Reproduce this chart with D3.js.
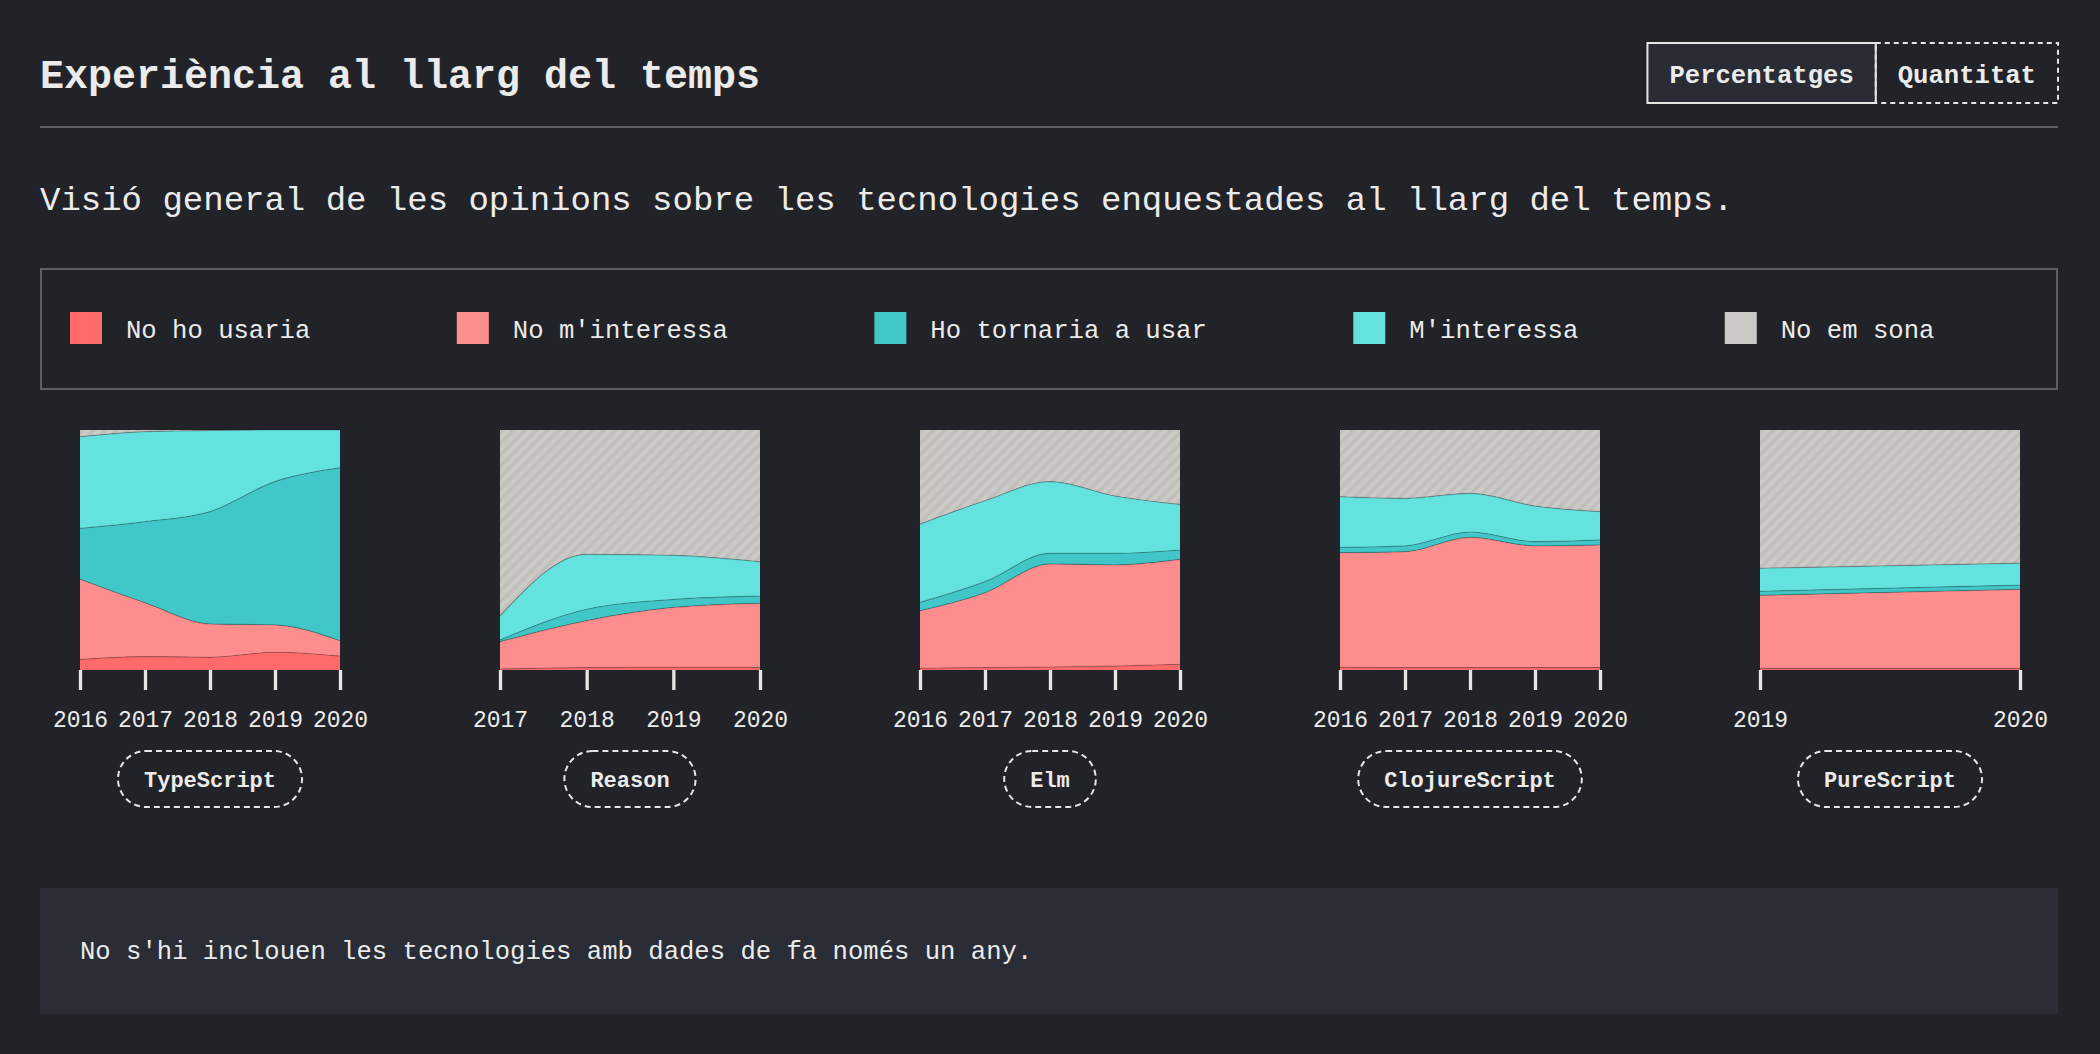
<!DOCTYPE html>
<html>
<head>
<meta charset="utf-8">
<script src="https://cdn.jsdelivr.net/npm/d3@7"></script>
<style>
html, body { margin: 0; padding: 0; background: #222329; }
svg { display: block; }
text { font-family: "Liberation Mono", "DejaVu Sans Mono", monospace; fill: #ebebeb; }
</style>
</head>
<body>
<svg id="chart" width="2100" height="1054"></svg>
<script>
// ---------- DATA ----------
const categoryLabels = ["No ho usaria", "No m'interessa", "Ho tornaria a usar", "M'interessa", "No em sona"];
const categoryKeys = ["would_not_use", "not_interested", "would_use", "interested", "never_heard"];
const categoryColors = ["#ff6b6b", "#fe8e8e", "#41c7c7", "#63e2e0", "#cccac6"];
const technologies = ["TypeScript", "Reason", "Elm", "ClojureScript", "PureScript"];
const toggleLabels = ["Percentatges", "Quantitat"];

// TypeScript
const typescriptYears = [2016, 2017, 2018, 2019, 2020];
const typescriptWouldNotUse = [4.4, 5.6, 5.3, 7.4, 5.8];
const typescriptNotInterested = [33.4, 22.4, 13.9, 11.4, 6.4];
const typescriptWouldUse = [21.2, 33.8, 46.8, 59.7, 72.1];
const typescriptInterested = [38.2, 37.5, 33.8, 21.5, 15.7];
const typescriptNeverHeard = [2.8, 0.7, 0.2, 0.0, 0.0];

// Reason
const reasonYears = [2017, 2018, 2019, 2020];
const reasonWouldNotUse = [0.4, 1.0, 1.1, 1.1];
const reasonNotInterested = [11.4, 19.6, 25.0, 26.7];
const reasonWouldUse = [0.7, 4.7, 3.3, 3.0];
const reasonInterested = [10.0, 22.9, 18.4, 14.3];
const reasonNeverHeard = [77.5, 51.8, 52.2, 54.9];

// Elm
const elmYears = [2016, 2017, 2018, 2019, 2020];
const elmWouldNotUse = [0.7, 1.0, 1.2, 1.6, 2.4];
const elmNotInterested = [24.0, 31.2, 43.0, 42.2, 43.7];
const elmWouldUse = [3.5, 4.6, 4.4, 4.8, 3.9];
const elmInterested = [32.6, 33.7, 29.9, 23.9, 19.0];
const elmNeverHeard = [39.2, 29.5, 21.5, 27.5, 31.0];

// ClojureScript
const clojurescriptYears = [2016, 2017, 2018, 2019, 2020];
const clojurescriptWouldNotUse = [1.1, 1.0, 1.0, 1.0, 1.0];
const clojurescriptNotInterested = [47.8, 48.3, 54.3, 50.7, 51.1];
const clojurescriptWouldUse = [2.2, 2.4, 2.2, 1.8, 2.1];
const clojurescriptInterested = [21.1, 19.8, 16.1, 14.8, 11.8];
const clojurescriptNeverHeard = [27.8, 28.5, 26.4, 31.7, 34.0];

// PureScript
const purescriptYears = [2019, 2020];
const purescriptWouldNotUse = [0.7, 0.7];
const purescriptNotInterested = [30.4, 32.9];
const purescriptWouldUse = [1.7, 1.8];
const purescriptInterested = [9.6, 9.1];
const purescriptNeverHeard = [57.6, 55.5];

const titleText = "Experiència al llarg del temps";
const subtitleText = "Visió general de les opinions sobre les tecnologies enquestades al llarg del temps.";
const noteText = "No s'hi inclouen les tecnologies amb dades de fa només un any.";

// ---------- BUILD TABLES ----------
const techSeries = [
  [typescriptYears, [typescriptWouldNotUse, typescriptNotInterested, typescriptWouldUse, typescriptInterested, typescriptNeverHeard]],
  [reasonYears, [reasonWouldNotUse, reasonNotInterested, reasonWouldUse, reasonInterested, reasonNeverHeard]],
  [elmYears, [elmWouldNotUse, elmNotInterested, elmWouldUse, elmInterested, elmNeverHeard]],
  [clojurescriptYears, [clojurescriptWouldNotUse, clojurescriptNotInterested, clojurescriptWouldUse, clojurescriptInterested, clojurescriptNeverHeard]],
  [purescriptYears, [purescriptWouldNotUse, purescriptNotInterested, purescriptWouldUse, purescriptInterested, purescriptNeverHeard]]
];

// ---------- DRAW ----------
const svg = d3.select("#chart");
const W = 2100, marginL = 40, marginR = 42;
const innerRight = W - marginR;

const defs = svg.append("defs");
const pat = defs.append("pattern")
  .attr("id", "hatch").attr("patternUnits", "userSpaceOnUse")
  .attr("width", 8).attr("height", 8)
  .attr("patternTransform", "rotate(45)");
pat.append("rect").attr("width", 8).attr("height", 8).attr("fill", "#cccac6");
pat.append("rect").attr("width", 3.5).attr("height", 8).attr("fill", "#c0beba");

const fillFor = i => categoryKeys[i] === "never_heard" ? "url(#hatch)" : categoryColors[i];

// Title
svg.append("text").attr("x", marginL).attr("y", 88)
  .attr("font-size", 40).attr("font-weight", 700).text(titleText);

// Toggle buttons
const btnY = 43, btnH = 60, btnPad = 22;
const btnWidths = toggleLabels.map(t => t.length * 25.6 * 0.6 + btnPad * 2);
let bx = innerRight - d3.sum(btnWidths);
toggleLabels.forEach((label, i) => {
  const w = btnWidths[i];
  svg.append("rect").attr("x", bx).attr("y", btnY).attr("width", w).attr("height", btnH)
    .attr("fill", i === 0 ? "#292c35" : "none")
    .attr("stroke", "#e6e6e6").attr("stroke-width", 2)
    .attr("stroke-dasharray", i === 0 ? null : "5,4");
  svg.append("text").attr("x", bx + w / 2).attr("y", 83)
    .attr("text-anchor", "middle").attr("font-size", 25.6).attr("font-weight", 700)
    .text(label);
  bx += w;
});

// Rule
svg.append("line").attr("x1", marginL).attr("x2", innerRight).attr("y1", 127).attr("y2", 127)
  .attr("stroke", "#5b5f66").attr("stroke-width", 2);

// Subtitle
svg.append("text").attr("x", marginL).attr("y", 210).attr("font-size", 34).text(subtitleText);

// Legend
svg.append("rect").attr("x", marginL + 1).attr("y", 269).attr("width", innerRight - marginL - 2).attr("height", 120)
  .attr("fill", "none").attr("stroke", "#5b5f66").attr("stroke-width", 2);
let lx = 70;
categoryLabels.forEach((label, i) => {
  svg.append("rect").attr("x", lx).attr("y", 312).attr("width", 32).attr("height", 32)
    .attr("fill", categoryColors[i]);
  const t = svg.append("text").attr("x", lx + 56).attr("y", 338).attr("font-size", 25.6).text(label);
  lx += 56 + t.node().getComputedTextLength() + 146.5;
});

// Small multiples
const plotW = 260, plotH = 240, plotTop = 430, firstLeft = 80, step = 420;
technologies.forEach((tech, ti) => {
  const [years, series] = techSeries[ti];
  const rows = years.map((yr, j) => {
    const r = { year: yr };
    categoryKeys.forEach((k, ki) => { r[k] = series[ki][j]; });
    return r;
  });
  const stacked = d3.stack().keys(categoryKeys).offset(d3.stackOffsetExpand)(rows);
  const x = d3.scaleLinear().domain(d3.extent(years)).range([0, plotW]);
  const y = d3.scaleLinear().domain([0, 1]).range([plotH, 0]);
  const g = svg.append("g").attr("transform", `translate(${firstLeft + ti * step},${plotTop})`);

  const area = d3.area().x(d => x(d.data.year)).y0(d => y(d[0])).y1(d => y(d[1])).curve(d3.curveMonotoneX);
  const topLine = d3.line().x(d => x(d.data.year)).y(d => y(d[1])).curve(d3.curveMonotoneX);

  g.selectAll("path.layer").data(stacked).join("path")
    .attr("class", "layer")
    .attr("d", area)
    .attr("fill", (d, i) => fillFor(i));
  g.selectAll("path.edge").data(stacked.slice(0, stacked.length - 1)).join("path")
    .attr("class", "edge")
    .attr("d", topLine)
    .attr("fill", "none")
    .attr("stroke", "#000").attr("stroke-opacity", 0.22).attr("stroke-width", 1.2);

  const axisG = g.append("g").attr("transform", `translate(0,${plotH})`)
    .call(d3.axisBottom(x).tickValues(years).tickFormat(d3.format("d")).tickSize(20).tickPadding(21));
  axisG.attr("font-family", null).attr("font-size", null);
  axisG.select(".domain").remove();
  axisG.selectAll(".tick line").attr("stroke", "#e6e6e6").attr("stroke-width", 3.3);
  axisG.selectAll(".tick text").attr("font-size", 23).style("fill", "#ebebeb");

  // Badge
  const cx = plotW / 2;
  const badge = g.append("g");
  const br = badge.append("rect");
  const bt = badge.append("text").attr("x", cx).attr("y", 357).attr("text-anchor", "middle")
    .attr("font-size", 22).attr("font-weight", 700).text(tech);
  const tw = bt.node().getComputedTextLength();
  const bw = tw + 52, bh = 56;
  br.attr("x", cx - bw / 2).attr("y", 321).attr("width", bw).attr("height", bh)
    .attr("rx", bh / 2).attr("ry", bh / 2)
    .attr("fill", "none").attr("stroke", "#e6e6e6").attr("stroke-width", 2)
    .attr("stroke-dasharray", "6,4");
});

// Footnote
svg.append("rect").attr("x", marginL).attr("y", 888).attr("width", innerRight - marginL).attr("height", 126)
  .attr("fill", "#2a2d35");
svg.append("text").attr("x", 80).attr("y", 959).attr("font-size", 25.6).text(noteText);
</script>
</body>
</html>
